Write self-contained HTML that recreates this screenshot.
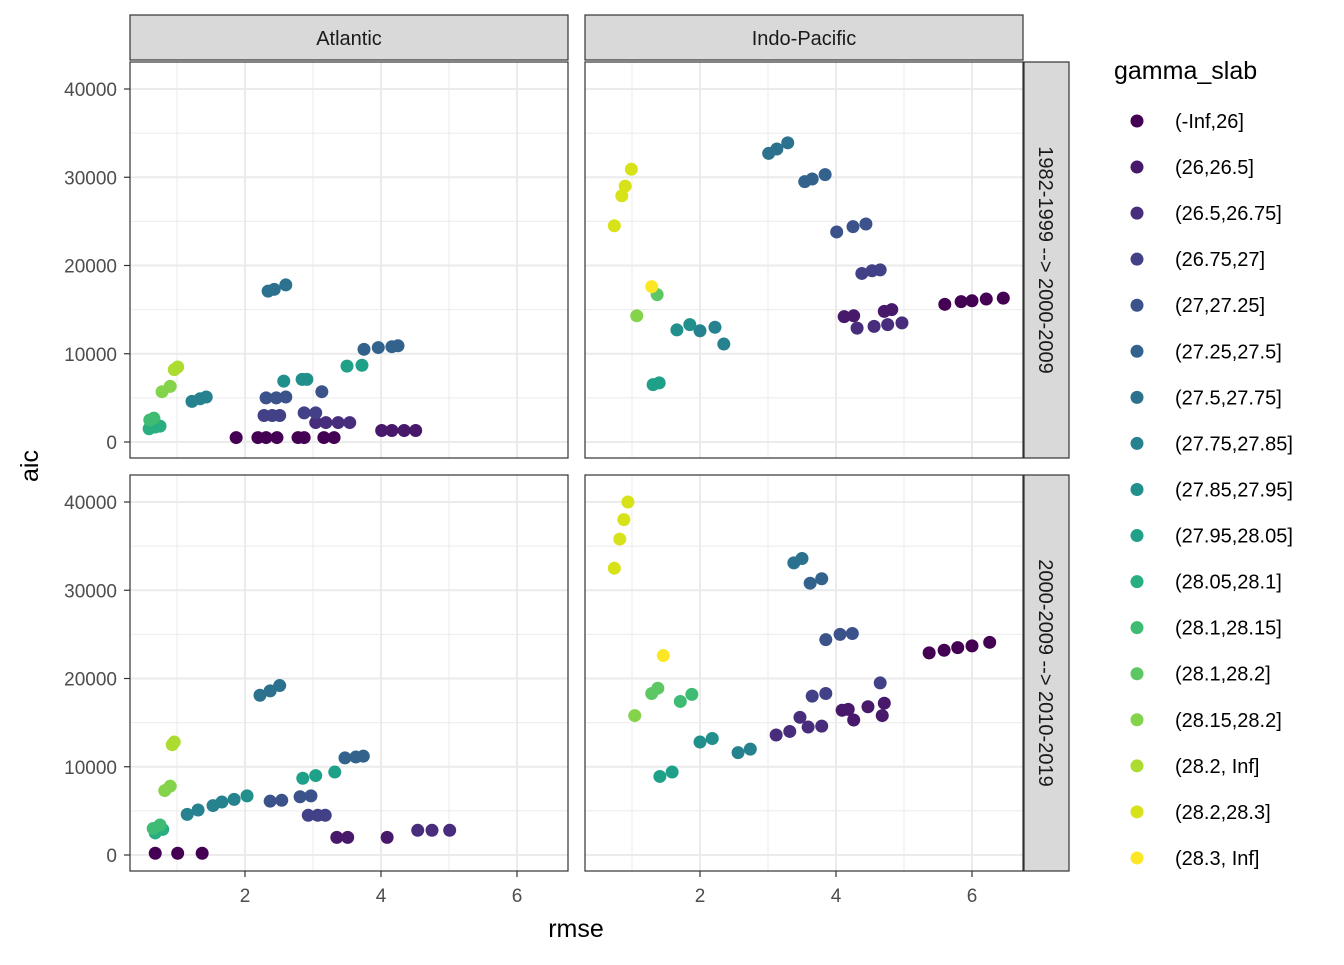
<!DOCTYPE html>
<html><head><meta charset="utf-8"><style>
html,body{margin:0;padding:0;background:#fff;}
svg text{font-family:"Liberation Sans",Arial,sans-serif;}
</style></head><body>
<svg id="chart" width="1344" height="960" xmlns="http://www.w3.org/2000/svg"></svg>
<script>
const categories=["(-Inf,26]","(26,26.5]","(26.5,26.75]","(26.75,27]","(27,27.25]","(27.25,27.5]","(27.5,27.75]","(27.75,27.85]","(27.85,27.95]","(27.95,28.05]","(28.05,28.1]","(28.1,28.15]","(28.1,28.2]","(28.15,28.2]","(28.2, Inf]","(28.2,28.3]","(28.3, Inf]"];
const colors=["#440154","#48186A","#472D7B","#424086","#3B528B","#33638D","#2C728E","#26828E","#21908C","#1FA088","#28AE80","#3FBC73","#5DC863","#84D44B","#ADDC30","#D8E219","#FDE725"];
const xTicks=[2,4,6];
const yTicks=[0,10000,20000,30000,40000];
const yTickLabels=["0","10000","20000","30000","40000"];
const facetCols=["Atlantic","Indo-Pacific"];
const facetRows=["1982-1999 --> 2000-2009","2000-2009 --> 2010-2019"];
// Atlantic 1982-1999
const atlTopRmse=[1.87,2.19,2.31,2.47,2.78,2.87,3.16,3.31, 4.01,4.16,4.34,4.51, 3.04,3.19,3.37,3.54, 2.28,2.40,2.51,2.87,3.04, 2.31,2.46,2.60,3.13, 3.75,3.96,4.16,4.25, 2.34,2.43,2.60, 1.22,1.34,1.43, 2.57,2.84,2.91, 3.50,3.72, 0.59,0.68,0.75, 0.60,0.66, 0.78,0.90, 0.96,1.01];
const atlTopAic=[500,500,500,500,500,500,500,500, 1300,1300,1300,1300, 2200,2200,2200,2200, 3000,3000,3000,3300,3300, 5000,5000,5100,5700, 10500,10700,10800,10900, 17100,17300,17800, 4600,4900,5100, 6900,7100,7100, 8600,8700, 1500,1700,1800, 2500,2700, 5700,6300, 8200,8500];
const atlTopCat=[0,0,0,0,0,0,0,0, 1,1,1,1, 2,2,2,2, 3,3,3,3,3, 4,4,4,4, 5,5,5,5, 6,6,6, 7,7,7, 8,8,8, 9,9, 10,10,10, 11,11, 13,13, 14,14];
// Atlantic 2000-2009
const atlBotRmse=[0.68,1.01,1.37, 3.35,3.51,4.09, 4.54,4.75,5.01, 2.93,3.07,3.18, 2.37,2.54,2.81,2.97, 3.47,3.63,3.74, 2.22,2.37,2.51, 1.15,1.31,1.53,1.66,1.84, 2.03, 2.85,3.04,3.32, 0.68,0.79, 0.65,0.75, 0.82,0.90, 0.93,0.96];
const atlBotAic=[200,200,200, 2000,2000,2000, 2800,2800,2800, 4500,4500,4500, 6100,6200,6600,6700, 11000,11100,11200, 18100,18600,19200, 4600,5100,5600,6000,6300, 6700, 8700,9000,9400, 2500,2900, 3000,3400, 7300,7800, 12500,12800];
const atlBotCat=[0,0,0, 1,1,1, 2,2,2, 3,3,3, 4,4,4,4, 5,5,5, 6,6,6, 7,7,7,7,7, 8, 9,9,9, 10,10, 11,11, 13,13, 14,14];
// Indo-Pacific 1982-1999
const ipTopRmse=[5.60,5.84,6.00,6.21,6.46, 4.12,4.26,4.71,4.82, 4.31,4.56,4.76,4.97, 4.38,4.53,4.65, 4.01,4.25,4.44, 3.54,3.65,3.84, 3.01,3.13,3.29, 2.0,2.22,2.35, 1.66,1.85, 1.31,1.40, 1.37, 1.07, 0.74,0.85,0.90,0.99, 1.29];
const ipTopAic=[15600,15900,16000,16200,16300, 14200,14300,14800,15000, 12900,13100,13300,13500, 19100,19400,19500, 23800,24400,24700, 29500,29800,30300, 32700,33200,33900, 12600,13000,11100, 12700,13300, 6500,6700, 16700, 14300, 24500,27900,29000,30900, 17600];
const ipTopCat=[0,0,0,0,0, 1,1,1,1, 2,2,2,2, 3,3,3, 4,4,4, 5,5,5, 6,6,6, 7,7,7, 8,8, 9,9, 12, 13, 15,15,15,15, 16];
// Indo-Pacific 2000-2009
const ipBotRmse=[5.37,5.59,5.79,6.00,6.26, 4.09,4.18,4.47,4.71,4.26,4.68, 3.12,3.32,3.59,3.47,3.79, 3.65,3.85,4.65, 3.85,4.06,4.24, 3.62,3.79, 3.38,3.50, 2.56,2.74, 2.0,2.18, 1.41,1.59, 1.71,1.88, 1.29,1.38, 1.04, 0.74,0.82,0.88,0.94, 1.46];
const ipBotAic=[22900,23200,23500,23700,24100, 16400,16500,16800,17200,15300,15800, 13600,14000,14500,15600,14600, 18000,18300,19500, 24400,25000,25100, 30800,31300, 33100,33600, 11600,12000, 12800,13200, 8900,9400, 17400,18200, 18300,18900, 15800, 32500,35800,38000,40000, 22600];
const ipBotCat=[0,0,0,0,0, 1,1,1,1,1,1, 2,2,2,2,2, 3,3,3, 4,4,4, 5,5, 6,6, 7,7, 8,8, 9,9, 11,11, 12,12, 13, 15,15,15,15, 16];

const NS="http://www.w3.org/2000/svg";
const svg=document.getElementById('chart');
function mk(tag,attrs,parent,text){const e=document.createElementNS(NS,tag);for(const k in attrs)e.setAttribute(k,attrs[k]);if(text!==undefined)e.textContent=text;(parent||svg).appendChild(e);return e;}
const panelsX=[130,585], panelW=438, panelsY=[62,475], panelH=396;
const xMin=(130-109)/68, pxPerX=68;
function xScale(col,v){return panelsX[col]+(v-xMin)*pxPerX;}
function yScale(row,v){return panelsY[row]+380-v*(353/40000);}
const data=[[[atlTopRmse,atlTopAic,atlTopCat],[ipTopRmse,ipTopAic,ipTopCat]],[[atlBotRmse,atlBotAic,atlBotCat],[ipBotRmse,ipBotAic,ipBotCat]]];
for(let r=0;r<2;r++)for(let c=0;c<2;c++){
  const g=mk('g',{});
  
  
  const px=panelsX[c],py=panelsY[r];
  mk('rect',{x:px,y:py,width:panelW,height:panelH,fill:'#fff'},g);
  for(let v=1;v<=6;v+=2){const x=xScale(c,v);mk('line',{x1:x,x2:x,y1:py,y2:py+panelH,stroke:'#EBEBEB','stroke-width':1},g);}
  for(let v=5000;v<=45000;v+=10000){const y=yScale(r,v);if(y>py)mk('line',{x1:px,x2:px+panelW,y1:y,y2:y,stroke:'#EBEBEB','stroke-width':1},g);}
  for(const v of xTicks){const x=xScale(c,v);mk('line',{x1:x,x2:x,y1:py,y2:py+panelH,stroke:'#EBEBEB','stroke-width':2},g);}
  for(const v of yTicks){const y=yScale(r,v);mk('line',{x1:px,x2:px+panelW,y1:y,y2:y,stroke:'#EBEBEB','stroke-width':2},g);}
  const [xs,ys,cs]=data[r][c];
  for(let i=0;i<xs.length;i++){
    const p=mk('circle',{cx:xScale(c,xs[i]),cy:yScale(r,ys[i]),r:6.5,fill:colors[cs[i]]},g);
    
    
  }
  mk('rect',{x:px,y:py,width:panelW,height:panelH,fill:'none',stroke:'#333','stroke-width':1.2},g);
}
for(let c=0;c<2;c++){
  const g=mk('g',{});
  
  
  mk('rect',{x:panelsX[c],y:15,width:panelW,height:45,fill:'#D9D9D9',stroke:'#333','stroke-width':1.2},g);
  mk('text',{x:panelsX[c]+panelW/2,y:45,'text-anchor':'middle','font-size':20,fill:'#1a1a1a'},g,facetCols[c]);
}
for(let r=0;r<2;r++){
  const g=mk('g',{});
  
  
  mk('rect',{x:1024,y:panelsY[r],width:45,height:panelH,fill:'#D9D9D9',stroke:'#333','stroke-width':1.2},g);
  const cy=panelsY[r]+panelH/2;
  mk('text',{x:1039,y:cy,'text-anchor':'middle','font-size':20,fill:'#1a1a1a',transform:`rotate(90 1039 ${cy})`},g,facetRows[r]);
}
for(let r=0;r<2;r++)yTicks.forEach((v,i)=>{const y=yScale(r,v);
  mk('line',{x1:124,x2:130,y1:y,y2:y,stroke:'#333','stroke-width':1.2});
  const t=mk('text',{x:117,y:y+7,'text-anchor':'end','font-size':19,fill:'#4d4d4d'},svg,yTickLabels[i]);
  
  
});
for(let c=0;c<2;c++)xTicks.forEach(v=>{const x=xScale(c,v);
  mk('line',{x1:x,x2:x,y1:871,y2:877,stroke:'#333','stroke-width':1.2});
  const t=mk('text',{x:x,y:902,'text-anchor':'middle','font-size':19,fill:'#4d4d4d'},svg,String(v));
  
  
});
let t=mk('text',{x:576,y:937,'text-anchor':'middle','font-size':25,fill:'#000'},svg,'rmse');

t=mk('text',{x:38,y:466,'text-anchor':'middle','font-size':25,fill:'#000',transform:'rotate(-90 38 466)'},svg,'aic');

const lg=mk('g',{});


mk('text',{x:1114,y:79,'font-size':25,fill:'#000'},lg,'gamma_slab');
categories.forEach((l,i)=>{const y=121+i*46.06;
  const e=mk('g',{},lg);
  
  
  mk('circle',{cx:1137,cy:y,r:6.5,fill:colors[i]},e);
  mk('text',{x:1175,y:y+7,'font-size':20,fill:'#000'},e,l);
});
</script>
</body></html>
